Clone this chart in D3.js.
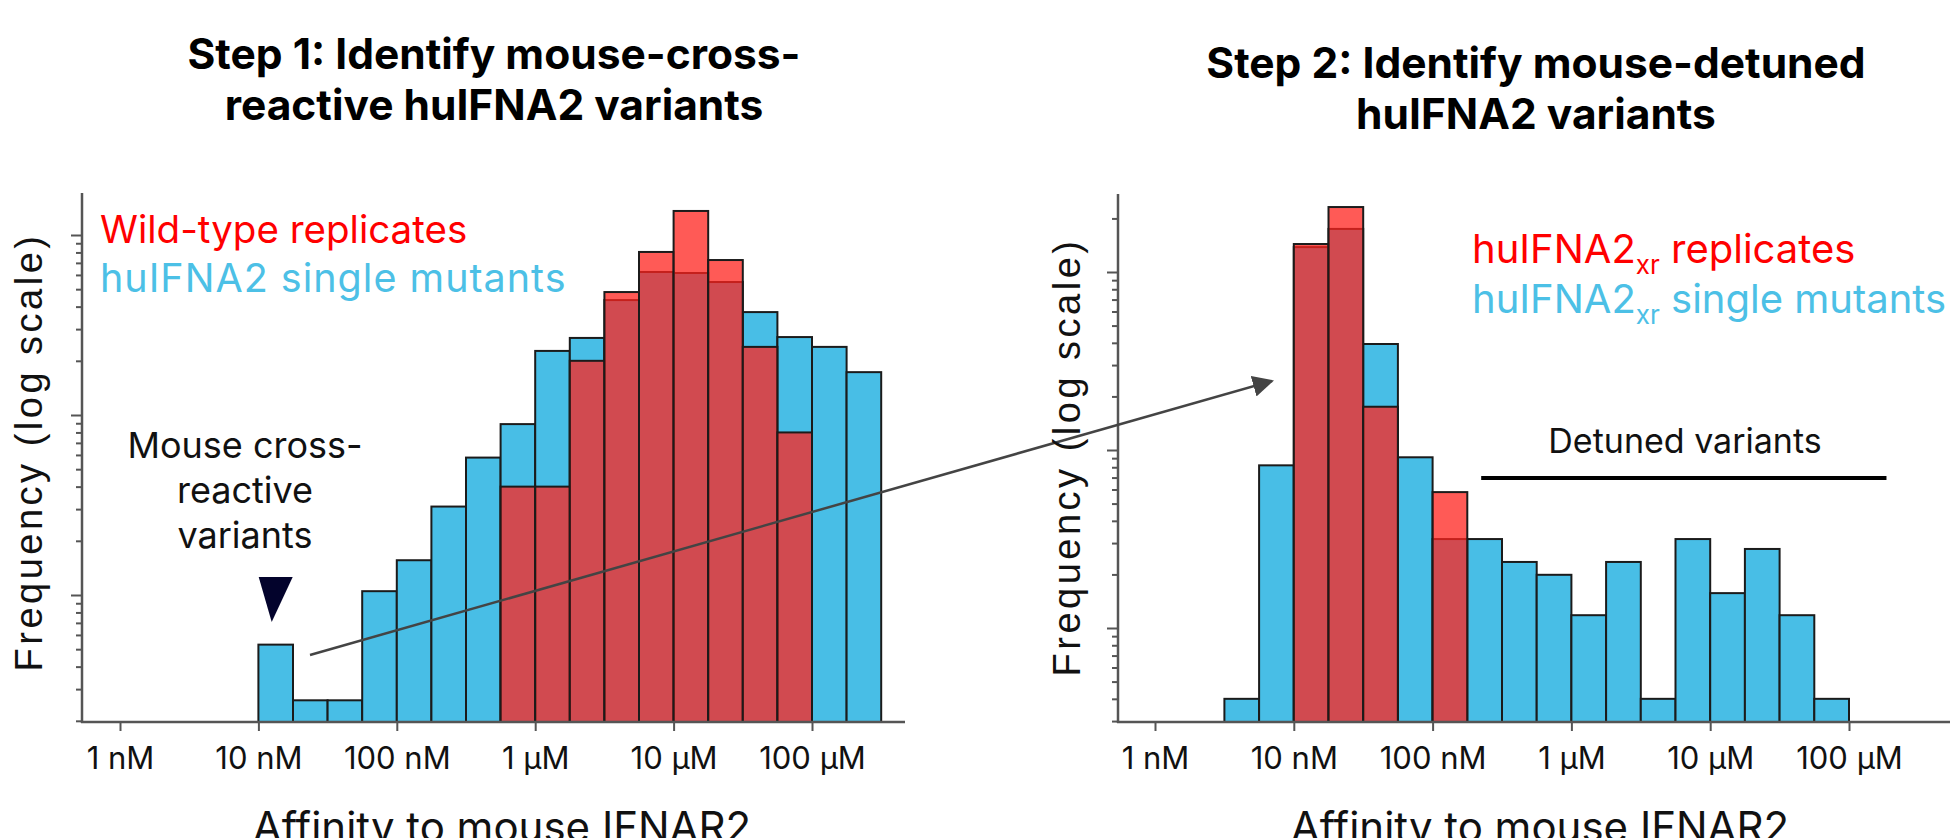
<!DOCTYPE html>
<html>
<head>
<meta charset="utf-8">
<script src="https://cdn.jsdelivr.net/npm/d3@7"></script>
<style>
  html, body { margin: 0; padding: 0; background: #fff; }
  svg { display: block; font-family: Inter, "Noto Sans", sans-serif; }
</style>
</head>
<body>
<div id="chart"></div>
<script>
// affinity bins are quarter decades (log10 M)
const binWidth = 0.25;

// step 1: wild-type affinity screen, bins start at 10 nM
const leftBinStart = -8;
const leftMutants = [5.3, 2.6, 2.6, 10.5, 15.6, 31, 58, 89, 227, 268, 435, 623, 615, 548, 373, 271, 239, 173];
const leftReplicates = [null, null, null, null, null, null, null, 40, 40, 200, 482, 805, 1360, 726, 239, 80, null, null];

// step 2: huIFNA2xr background, bins start at ~3 nM
const rightBinStart = -8.5;
const rightMutants = [4, 82, 1380, 1746, 394, 91, 31.6, 31.6, 23.5, 19.9, 11.8, 23.5, 4, 31.6, 15.7, 27.8, 11.8, 4];
const rightReplicates = [null, null, 1436, 2317, 175, null, 58, null, null, null, null, null, null, null, null, null, null, null];

const tickValues = [1e-9, 1e-8, 1e-7, 1e-6, 1e-5, 1e-4];
const tickLabels = ['1 nM', '10 nM', '100 nM', '1 µM', '10 µM', '100 µM'];
const detunedRange = [10 ** -6.65, 10 ** -3.73];

const blue = '#48bee6';
const redFill = 'rgb(255,35,30)';

const width = 1950, height = 838;
const svg = d3.select('#chart').append('svg')
  .attr('width', width).attr('height', height);

function panel(opts) {
  const { x0, x1, yTop, yBottom, xRange, yRange, start, mutants, replicates } = opts;
  const x = d3.scaleLog().domain([1e-9, 1e-4]).range(xRange);
  const y = d3.scaleLog().domain([10, 1000]).range(yRange);
  const g = svg.append('g');

  const bins = mutants.map((v, i) => ({
    lo: 10 ** (start + i * binWidth),
    hi: 10 ** (start + (i + 1) * binWidth),
    mut: v,
    rep: replicates[i]
  }));

  g.selectAll('rect.mut').data(bins).join('rect')
    .attr('class', 'mut')
    .attr('x', d => x(d.lo)).attr('width', d => x(d.hi) - x(d.lo))
    .attr('y', d => y(d.mut)).attr('height', d => yBottom - y(d.mut))
    .attr('fill', blue).attr('stroke', '#1b1b1b').attr('stroke-width', 2);

  g.selectAll('rect.rep').data(bins.filter(d => d.rep != null)).join('rect')
    .attr('class', 'rep')
    .attr('x', d => x(d.lo)).attr('width', d => x(d.hi) - x(d.lo))
    .attr('y', d => y(d.rep)).attr('height', d => yBottom - y(d.rep))
    .attr('fill', redFill).attr('fill-opacity', 0.75)
    .attr('stroke', '#1b1b1b').attr('stroke-width', 2);

  // y axis: log ticks, longer at decades
  const vTop = y.invert(yTop), vBot = y.invert(yBottom);
  const minor = [], major = [];
  for (let k = 0; k <= 3; k++) {
    for (let m = 1; m <= 9; m++) {
      const v = m * 10 ** k;
      if (v >= vBot && v <= vTop) (m === 1 ? major : minor).push(v);
    }
  }
  const axisG = g.append('g').attr('transform', `translate(${x0},0)`);
  axisG.append('g').call(d3.axisLeft(y).tickValues(minor).tickSize(6).tickFormat(''));
  axisG.append('g').call(d3.axisLeft(y).tickValues(major).tickSize(11).tickFormat(''));
  axisG.selectAll('.domain').remove();
  axisG.selectAll('line').attr('stroke', '#555').attr('stroke-width', 2);
  g.append('line').attr('x1', x0).attr('x2', x0).attr('y1', yTop).attr('y2', yBottom + 1)
    .attr('stroke', '#555').attr('stroke-width', 2.5);

  // x axis
  const xAxisG = g.append('g').attr('transform', `translate(0,${yBottom})`)
    .call(d3.axisBottom(x).tickValues(tickValues).tickSize(9)
      .tickFormat((d, i) => tickLabels[i]).tickPadding(16));
  xAxisG.select('.domain').remove();
  xAxisG.selectAll('line').attr('stroke', '#555').attr('stroke-width', 2);
  xAxisG.selectAll('text').attr('font-family', 'Inter, sans-serif')
    .attr('font-size', 31).attr('fill', '#111');
  g.append('line').attr('x1', x0 - 1).attr('x2', x1).attr('y1', yBottom).attr('y2', yBottom)
    .attr('stroke', '#555').attr('stroke-width', 2.5);

  return { x, y, g };
}

const left = panel({
  x0: 82, x1: 905, yTop: 193, yBottom: 722,
  xRange: [120, 812], yRange: [595, 235],
  start: leftBinStart, mutants: leftMutants, replicates: leftReplicates
});

const right = panel({
  x0: 1118, x1: 1950, yTop: 194, yBottom: 722,
  xRange: [1155, 1849], yRange: [628, 272],
  start: rightBinStart, mutants: rightMutants, replicates: rightReplicates
});

// titles
function title(cx, y1, lines) {
  svg.append('text').attr('x', cx).attr('y', y1)
    .attr('text-anchor', 'middle').attr('font-weight', 700).attr('font-size', 42.5).attr('fill', '#000')
    .selectAll('tspan').data(lines).join('tspan')
    .attr('x', cx).attr('dy', (d, i) => i === 0 ? 0 : 51).text(d => d);
}
title(494, 69, ['Step 1: Identify mouse-cross-', 'reactive huIFNA2 variants']);
title(1536, 78, ['Step 2: Identify mouse-detuned', 'huIFNA2 variants']);

// axis titles
function yTitle(bx, cy) {
  svg.append('text')
    .attr('transform', `translate(${bx},${cy}) rotate(-90)`)
    .attr('text-anchor', 'middle')
    .attr('font-family', '"Liberation Sans", Arial, sans-serif')
    .attr('font-size', 38).attr('letter-spacing', 3.5).attr('fill', '#111')
    .text('Frequency (log scale)');
}
yTitle(42, 452);
svg.append('rect').attr('x', 1026).attr('y', 236).attr('width', 68).attr('height', 444).attr('fill', '#fff');

// x titles sit partly below the picture edge, as in the source figure
svg.append('text').attr('x', 502).attr('y', 842).attr('text-anchor', 'middle')
  .attr('font-size', 42).attr('fill', '#111').text('Affinity to mouse IFNAR2');
svg.append('text').attr('x', 1540).attr('y', 842).attr('text-anchor', 'middle')
  .attr('font-size', 42).attr('fill', '#111').text('Affinity to mouse IFNAR2');

// legends
svg.append('text').attr('x', 100).attr('y', 243).attr('font-size', 38.5).attr('fill', '#ff0000')
  .text('Wild-type replicates');
svg.append('text').attr('x', 100).attr('y', 292).attr('font-size', 39.5).attr('letter-spacing', 1)
  .attr('fill', '#4cc0e6').text('huIFNA2 single mutants');

function subLegend(y, color, rest) {
  const t = svg.append('text').attr('x', 1472).attr('y', y).attr('font-size', 40).attr('fill', color);
  t.append('tspan').text('huIFNA2');
  t.append('tspan').attr('font-size', 26).attr('dy', 11).text('xr');
  t.append('tspan').attr('dy', -11).text(' ' + rest);
}
subLegend(263, '#ff0000', 'replicates');
subLegend(313, '#4cc0e6', 'single mutants');

// step 1 annotation
svg.append('text').attr('text-anchor', 'middle').attr('font-size', 36).attr('fill', '#111')
  .selectAll('tspan').data(['Mouse cross-', 'reactive', 'variants']).join('tspan')
  .attr('x', 245).attr('y', (d, i) => 458 + i * 45).text(d => d);

const markBin = left.x(10 ** (leftBinStart + binWidth / 2));
svg.append('path')
  .attr('d', `M${markBin - 17},577 L${markBin + 17},577 L${markBin - 4},622 Z`)
  .attr('fill', '#03032c');

// step 2 annotation
svg.append('text').attr('x', 1685).attr('y', 453).attr('text-anchor', 'middle')
  .attr('font-size', 34).attr('fill', '#111').text('Detuned variants');
svg.append('line')
  .attr('x1', right.x(detunedRange[0])).attr('x2', right.x(detunedRange[1]))
  .attr('y1', 478).attr('y2', 478).attr('stroke', '#000').attr('stroke-width', 4);

// connecting arrow
svg.append('defs').append('marker')
  .attr('id', 'arrow').attr('viewBox', '0 0 10 10').attr('refX', 9).attr('refY', 5)
  .attr('markerWidth', 8.5).attr('markerHeight', 8.5).attr('markerUnits', 'strokeWidth')
  .attr('orient', 'auto')
  .append('path').attr('d', 'M0,0 L10,5 L0,10 Z').attr('fill', '#444');
svg.append('line')
  .attr('x1', 310).attr('y1', 655).attr('x2', 1272).attr('y2', 381)
  .attr('stroke', '#444').attr('stroke-width', 2.5).attr('marker-end', 'url(#arrow)');

yTitle(1080, 457);
</script>
</body>
</html>
